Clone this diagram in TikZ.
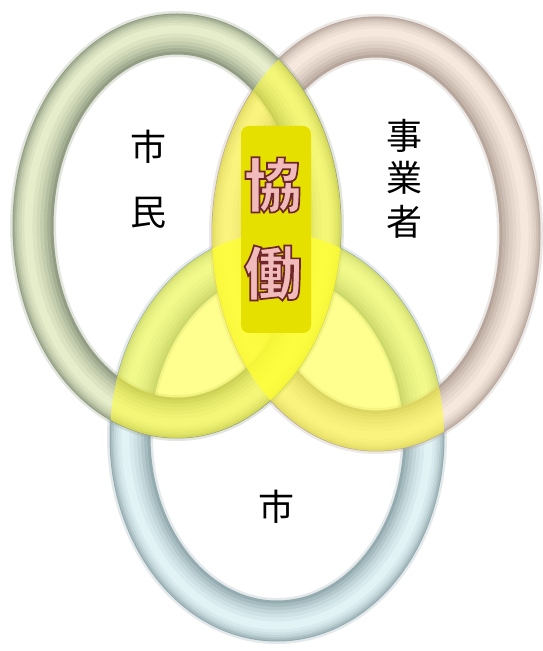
\documentclass[tikz,border=0pt]{standalone}
\usepackage{fontspec}
\newfontfamily\cjk{Noto Sans CJK JP}
\definecolor{gdark}{HTML}{929D83}
\definecolor{glight}{HTML}{E6EDCB}
\definecolor{pdark}{HTML}{B7A69C}
\definecolor{plight}{HTML}{F6E8DD}
\definecolor{bdark}{HTML}{94ABB0}
\definecolor{blight}{HTML}{E2F3F6}
\definecolor{yel}{HTML}{FFFF33}
\definecolor{boxyel}{HTML}{E5E000}
\definecolor{kyopink}{HTML}{F2BBBB}
\newcommand\tubering[5]{%
  \draw[line width=46pt, #4, opacity=0.25] #1 ellipse [x radius=#2, y radius=#3];
  \foreach \w/\p/\o in {41/0/0, 37/22/1, 32/42/1.8, 27/60/2.6, 21/75/3.3, 15/88/4, 8/100/4.6}{
    \pgfmathsetmacro\rxa{#2+\o}\pgfmathsetmacro\rya{#3+\o}
    \draw[line width=\w pt, color=#5!\p!#4] #1 ellipse [x radius=\rxa, y radius=\rya];
  }
}
\tikzset{
  lbl/.style={font=\cjk\fontsize{36}{36}\selectfont, text=black, inner sep=0pt},
  kyo/.style={font=\cjk\bfseries\fontsize{58}{58}\selectfont, inner sep=0pt, text=kyopink},
  yfill/.style={fill=yel, fill opacity=0.55},
}
\newcommand\outl[1]{\special{pdf:literal direct 2 Tr 1.7 w 0.43 0.15 0.16 RG}#1\special{pdf:literal direct 0 Tr}}
\begin{document}
\begin{tikzpicture}[x=1pt,y=1pt]
\useasboundingbox (0,0) rectangle (542,651);
\fill[white] (0,0) rectangle (542,651);
% rings
\tubering{(277,214)}{147}{184}{bdark}{blight}
\tubering{(376,417)}{144}{197}{pdark}{plight}
\tubering{(177,425)}{144}{192}{gdark}{glight}
% yellow overlaps
\begin{scope}
  \clip (177,425) ellipse [x radius=164, y radius=212];
  \fill[yfill] (376,417) ellipse [x radius=164, y radius=217];
\end{scope}
\begin{scope}
  \clip (177,425) ellipse [x radius=164, y radius=212];
  \fill[yfill] (277,214) ellipse [x radius=167, y radius=204];
\end{scope}
\begin{scope}
  \clip (376,417) ellipse [x radius=164, y radius=217];
  \fill[yfill] (277,214) ellipse [x radius=167, y radius=204];
\end{scope}
% center box
\node[fill=boxyel, rounded corners=8pt, minimum width=70pt, minimum height=207pt, inner sep=0pt] (box) at (276,421.5) {};
\node[kyo] (kyo1) at (273,466) {\outl{協}};
\node[kyo] (kyo2) at (273,378) {\outl{働}};
% labels
\node[lbl] (shi1) at (148,504) {市};
\node[lbl] (min) at (148,438) {民};
\node[lbl] (ji) at (404,515) {事};
\node[lbl] (gyo) at (404,473) {業};
\node[lbl] (sha) at (404,429) {者};
\node[lbl] (shi2) at (276,144) {市};
\end{tikzpicture}
\end{document}
